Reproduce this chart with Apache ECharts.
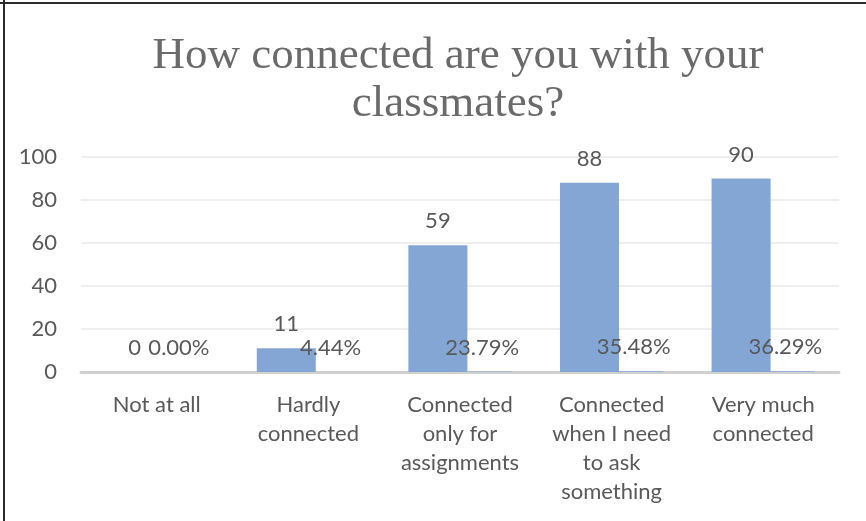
<!DOCTYPE html>
<html>
<head>
<meta charset="utf-8">
<script src="https://cdn.jsdelivr.net/npm/echarts@6/dist/echarts.min.js"></script>
<style>
  html, body { margin: 0; padding: 0; background: #fff; }
  #chart { width: 866px; height: 521px; }
</style>
</head>
<body>
<div id="chart"></div>
<script>
// Survey answers: how connected students feel with classmates
const categories = [
  'Not at all',
  'Hardly\nconnected',
  'Connected\nonly for\nassignments',
  'Connected\nwhen I need\nto ask\nsomething',
  'Very much\nconnected'
];
const counts = [0, 11, 59, 88, 90];
const shares = [0, 0.0444, 0.2379, 0.3548, 0.3629];
const yTicks = [0, 20, 40, 60, 80, 100];

const textColor = '#595959';
const barColor = '#84A6D4';
const sansFont = 'Lato, "Open Sans", sans-serif';

const chart = echarts.init(document.getElementById('chart'), null, { renderer: 'canvas' });

chart.setOption({
  backgroundColor: '#ffffff',
  animation: false,
  title: {
    text: 'How connected are you with your\nclassmates?',
    left: 453,
    top: 27,
    textAlign: 'center',
    textStyle: {
      fontFamily: '"Liberation Serif", serif',
      fontSize: 45,
      fontWeight: 'normal',
      color: '#6a6a6a',
      lineHeight: 48
    }
  },
  graphic: [
    { type: 'line', shape: { x1: 0, y1: 3, x2: 866, y2: 3 }, style: { stroke: '#2b2b2b', lineWidth: 2 } },
    { type: 'line', shape: { x1: 4, y1: 0, x2: 4, y2: 521 }, style: { stroke: '#2b2b2b', lineWidth: 2 } }
  ],
  grid: { left: 81, right: 27, top: 157, bottom: 149, containLabel: false },
  xAxis: {
    type: 'category',
    data: categories,
    axisLine: { show: true, lineStyle: { color: '#d0d0d0', width: 3 } },
    axisTick: { show: false },
    axisLabel: {
      interval: 0,
      color: textColor,
      fontFamily: sansFont,
      fontSize: 22,
      lineHeight: 29,
      margin: 18,
      verticalAlign: 'top'
    }
  },
  yAxis: {
    type: 'value',
    min: yTicks[0],
    max: yTicks[yTicks.length - 1],
    interval: yTicks[1] - yTicks[0],
    axisLine: { show: false },
    axisTick: { show: false },
    splitLine: { show: true, lineStyle: { color: '#efefef', width: 2 } },
    axisLabel: {
      color: textColor,
      fontFamily: sansFont,
      fontSize: 22,
      margin: 24
    }
  },
  series: [
    {
      name: 'Count',
      type: 'bar',
      data: counts,
      barWidth: 59,
      barGap: '-25%',
      itemStyle: { color: barColor },
      label: {
        show: true,
        position: 'top',
        distance: 13,
        color: textColor,
        fontFamily: sansFont,
        fontSize: 22
      }
    },
    {
      name: 'Share',
      type: 'bar',
      data: shares,
      barWidth: 59,
      itemStyle: { color: barColor },
      label: {
        show: true,
        position: 'top',
        distance: 13,
        color: textColor,
        fontFamily: sansFont,
        fontSize: 22,
        formatter: p => (p.value * 100).toFixed(2) + '%'
      }
    }
  ]
});
</script>
</body>
</html>
